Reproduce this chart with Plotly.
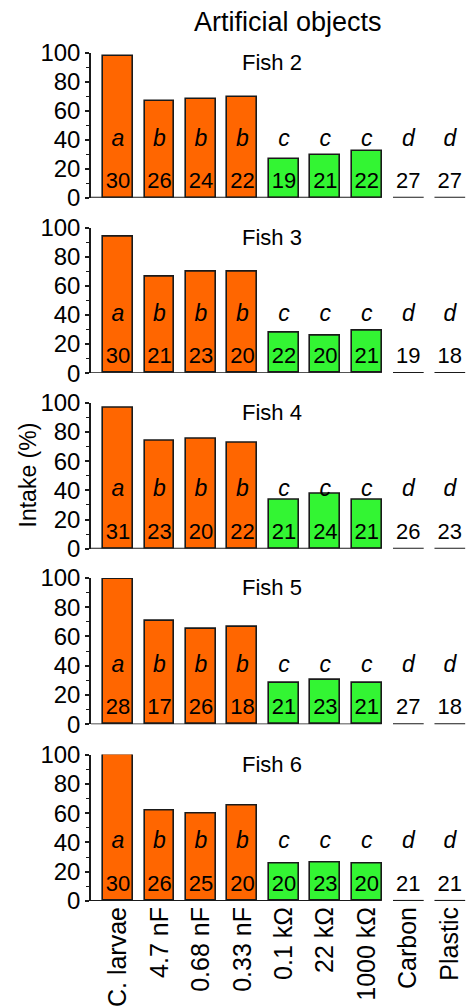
import plotly.graph_objects as go

categories = ["C. larvae", "4.7 nF", "0.68 nF", "0.33 nF", "0.1 kΩ", "22 kΩ", "1000 kΩ", "Carbon", "Plastic"]
fish_names = ["Fish 2", "Fish 3", "Fish 4", "Fish 5", "Fish 6"]

intake_fish2 = [98, 66.5, 68, 69.5, 27, 29.5, 32.5, 0, 0]
intake_fish3 = [93.5, 66.5, 69.5, 70, 27.5, 25.5, 29, 0, 0]
intake_fish4 = [96.5, 74, 75, 72.5, 33.5, 37.5, 33.5, 0, 0]
intake_fish5 = [99.5, 70.5, 65, 66.5, 28.5, 30.5, 28.5, 0, 0]
intake_fish6 = [100, 62, 60, 65, 25.5, 26.5, 25.5, 0, 0]

n_fish2 = [30, 26, 24, 22, 19, 21, 22, 27, 27]
n_fish3 = [30, 21, 23, 20, 22, 20, 21, 19, 18]
n_fish4 = [31, 23, 20, 22, 21, 24, 21, 26, 23]
n_fish5 = [28, 17, 26, 18, 21, 23, 21, 27, 18]
n_fish6 = [30, 26, 25, 20, 20, 23, 20, 21, 21]

group_letters = ["a", "b", "b", "b", "c", "c", "c", "d", "d"]

intakes = [intake_fish2, intake_fish3, intake_fish4, intake_fish5, intake_fish6]
counts = [n_fish2, n_fish3, n_fish4, n_fish5, n_fish6]

ORANGE = "#FF6600"
GREEN = "#33F533"
EDGE = "#1a1a1a"
FONT = "Liberation Sans, Arial, sans-serif"

# panel domains (paper fraction)
domains = [(0.8293, 1.0), (0.6225, 0.7940), (0.4154, 0.5875), (0.2083, 0.3810), (0.0, 0.1727)]

xpos = list(range(len(categories)))
bar_w = 0.72
n_orange = 4
n_green = 3
n_bars = n_orange + n_green

fig = go.Figure()

for k, (vals, ns) in enumerate(zip(intakes, counts)):
    xa = "x" if k == 0 else f"x{k+1}"
    ya = "y" if k == 0 else f"y{k+1}"
    colors = [ORANGE] * n_orange + [GREEN] * n_green
    fig.add_trace(go.Bar(
        x=xpos[:n_bars], y=vals[:n_bars], width=bar_w,
        marker=dict(color=colors, line=dict(color=EDGE, width=1.6)),
        xaxis=xa, yaxis=ya, showlegend=False, cliponaxis=False,
    ))
    # baseline under the bars
    fig.add_trace(go.Scatter(
        x=[-0.65, xpos[n_bars - 1] + bar_w / 2], y=[0, 0], mode="lines",
        line=dict(color=EDGE, width=1.8), xaxis=xa, yaxis=ya,
        showlegend=False, cliponaxis=False, hoverinfo="skip",
    ))
    # zero-valued categories drawn as short lines
    for i in range(n_bars, len(categories)):
        fig.add_trace(go.Scatter(
            x=[xpos[i] - 0.37, xpos[i] + 0.37], y=[vals[i], vals[i]], mode="lines",
            line=dict(color=EDGE, width=2.2), xaxis=xa, yaxis=ya,
            showlegend=False, cliponaxis=False, hoverinfo="skip",
        ))
        if k == len(intakes) - 1:
            fig.add_trace(go.Scatter(
                x=[xpos[i] + 0.35, xpos[i] + 0.35], y=[vals[i], vals[i] - 22], mode="lines",
                line=dict(color=EDGE, width=1.3), xaxis=xa, yaxis=ya,
                showlegend=False, cliponaxis=False, hoverinfo="skip",
            ))
    # group letters
    fig.add_trace(go.Scatter(
        x=xpos, y=[40] * len(xpos), mode="text",
        text=[f"<i>{g}</i>" for g in group_letters],
        textfont=dict(family=FONT, size=23, color="black"),
        xaxis=xa, yaxis=ya, showlegend=False, cliponaxis=False, hoverinfo="skip",
    ))
    # sample sizes
    fig.add_trace(go.Scatter(
        x=xpos, y=[10.5] * len(xpos), mode="text",
        text=[str(n) for n in ns],
        textfont=dict(family=FONT, size=22, color="black"),
        xaxis=xa, yaxis=ya, showlegend=False, cliponaxis=False, hoverinfo="skip",
    ))
    fig.add_annotation(
        text=fish_names[k], xref=f"{xa} domain", yref=f"{ya} domain",
        x=0.483, y=0.935, showarrow=False, xanchor="center", yanchor="middle",
        font=dict(family=FONT, size=22, color="black"),
    )

    axis_x = dict(
        domain=[0, 1], range=[-0.65, 8.39], anchor=ya, showline=False,
        showgrid=False, zeroline=False, tickmode="array", tickvals=xpos,
        ticktext=categories, ticks="", showticklabels=(k == len(intakes) - 1),
        tickangle=-90, tickfont=dict(family=FONT, size=25, color="black"),
    )
    axis_y = dict(
        domain=list(domains[k]), range=[0, 100], anchor=xa, showline=True,
        linecolor=EDGE, linewidth=1.5, showgrid=False, zeroline=False,
        tickmode="linear", tick0=0, dtick=20, ticks="outside", ticklen=4,
        tickwidth=1.5, tickcolor=EDGE,
        minor=dict(dtick=10, ticks="outside", ticklen=3, tickwidth=1.2, tickcolor=EDGE),
        tickfont=dict(family=FONT, size=24, color="black"),
    )
    if k == 0:
        fig.update_layout(xaxis=axis_x, yaxis=axis_y)
    else:
        fig.update_layout(**{f"xaxis{k+1}": axis_x, f"yaxis{k+1}": axis_y})

fig.add_annotation(
    text="Artificial objects", xref="paper", yref="paper", x=0.525, y=1.037,
    showarrow=False, xanchor="center", yanchor="middle",
    font=dict(family=FONT, size=27, color="black"),
)
fig.add_annotation(
    text="Intake (%)", xref="paper", yref="paper", x=-0.168, y=0.503,
    showarrow=False, xanchor="center", yanchor="middle", textangle=-90,
    font=dict(family=FONT, size=23, color="black"),
)

fig.update_layout(
    width=466, height=1007,
    margin=dict(l=91, r=0, t=53, b=97),
    paper_bgcolor="white", plot_bgcolor="white",
    bargap=0, showlegend=False,
)

fig.write_html(
    "out.html",
    config={"displayModeBar": False},
    post_script="document.body.style.margin='0';document.body.style.overflow='hidden';",
)
